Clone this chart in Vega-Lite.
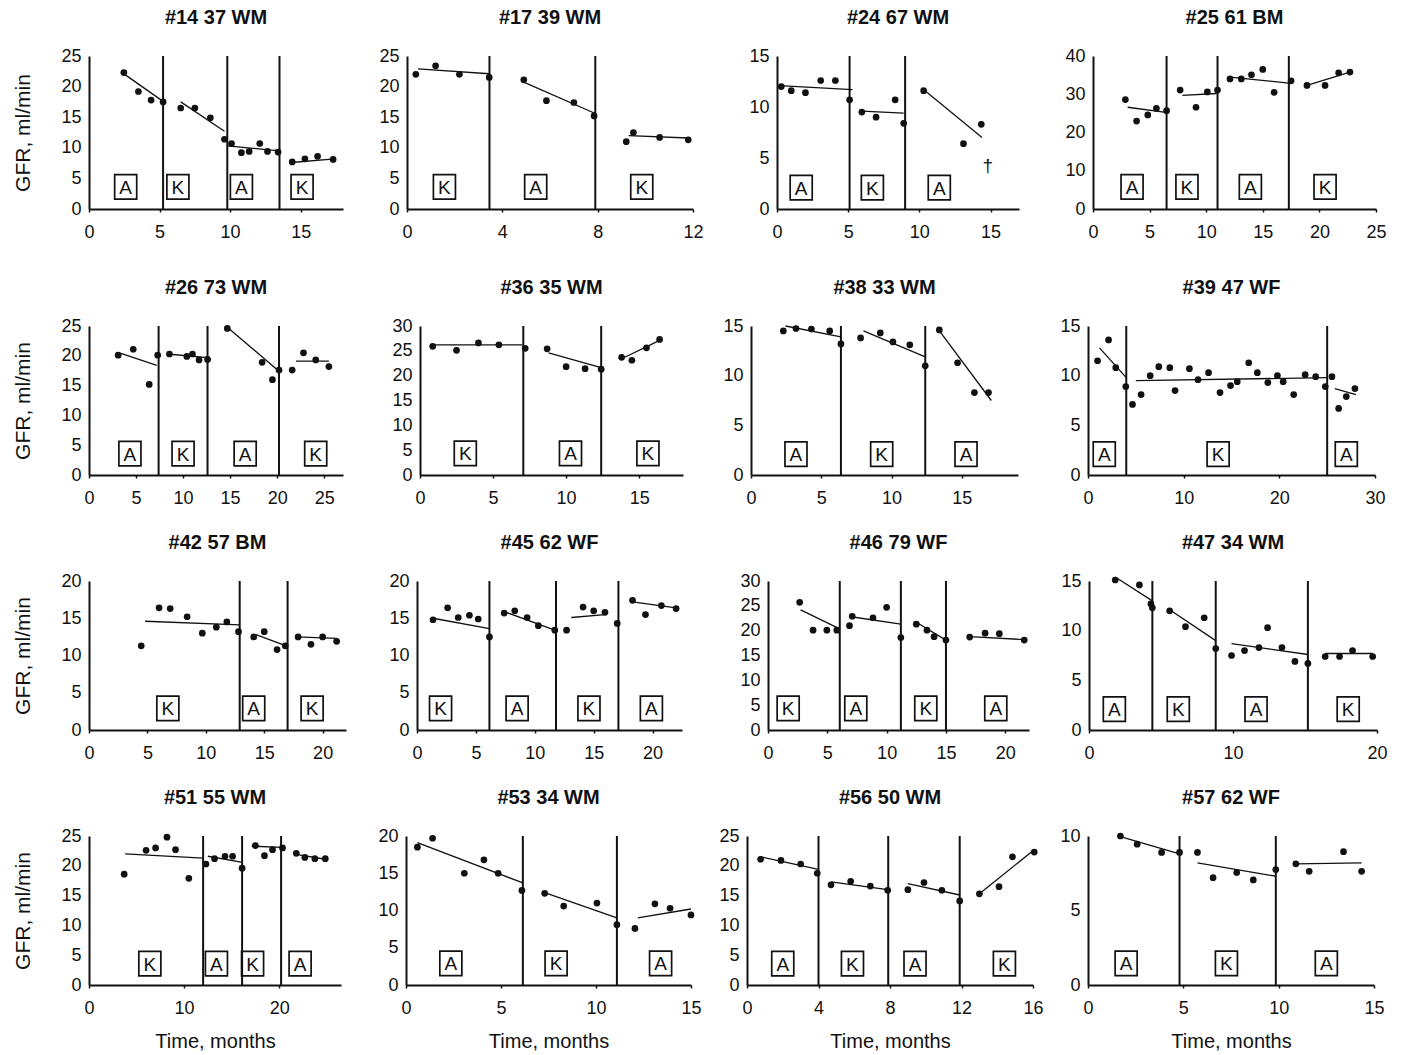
{
"$schema": "https://vega.github.io/schema/vega-lite/v6.json",
"background": "white",
"padding": {"left": 12, "top": 8, "right": 5, "bottom": 3},
"datasets": {
"d": [
{"p":1,"k":"p","t":2.47,"g":22.3},{"p":1,"k":"p","t":3.5,"g":19.2},{"p":1,"k":"p","t":4.4,"g":17.8},{"p":1,"k":"p","t":5.25,"g":17.5},{"p":1,"k":"p","t":6.5,"g":16.5},{"p":1,"k":"p","t":7.5,"g":16.5},{"p":1,"k":"p","t":8.6,"g":14.9},{"p":1,"k":"p","t":9.6,"g":11.4},{"p":1,"k":"p","t":10.1,"g":10.7},{"p":1,"k":"p","t":10.8,"g":9.2},{"p":1,"k":"p","t":11.35,"g":9.4},{"p":1,"k":"p","t":12.1,"g":10.7},{"p":1,"k":"p","t":12.65,"g":9.4},{"p":1,"k":"p","t":13.4,"g":9.3},{"p":1,"k":"p","t":14.4,"g":7.7},{"p":1,"k":"p","t":15.3,"g":8.2},{"p":1,"k":"p","t":16.2,"g":8.6},{"p":1,"k":"p","t":17.3,"g":8.1},
{"p":1,"k":"f","s":1,"t":2.4,"g":22.2},{"p":1,"k":"f","s":1,"t":5.3,"g":17.5},{"p":1,"k":"f","s":2,"t":6.5,"g":17.5},{"p":1,"k":"f","s":2,"t":9.6,"g":12.7},{"p":1,"k":"f","s":3,"t":9.8,"g":10.3},{"p":1,"k":"f","s":3,"t":13.5,"g":9.5},{"p":1,"k":"f","s":4,"t":14.35,"g":7.6},{"p":1,"k":"f","s":4,"t":17.4,"g":8.2},
{"p":1,"k":"b","t":5.25,"g":25},{"p":1,"k":"b","t":9.8,"g":25},{"p":1,"k":"b","t":13.5,"g":25},
{"p":1,"k":"l","t":2.6,"g":3.6,"lab":"A"},{"p":1,"k":"l","t":6.3,"g":3.6,"lab":"K"},{"p":1,"k":"l","t":10.8,"g":3.6,"lab":"A"},{"p":1,"k":"l","t":15.1,"g":3.6,"lab":"K"},

{"p":2,"k":"p","t":0.37,"g":22.0},{"p":2,"k":"p","t":1.2,"g":23.4},{"p":2,"k":"p","t":2.2,"g":22.0},{"p":2,"k":"p","t":3.45,"g":21.5},{"p":2,"k":"p","t":4.9,"g":21.1},{"p":2,"k":"p","t":5.85,"g":17.7},{"p":2,"k":"p","t":7.0,"g":17.4},{"p":2,"k":"p","t":7.85,"g":15.2},{"p":2,"k":"p","t":9.2,"g":11.0},{"p":2,"k":"p","t":9.5,"g":12.5},{"p":2,"k":"p","t":10.6,"g":11.7},{"p":2,"k":"p","t":11.8,"g":11.3},
{"p":2,"k":"f","s":1,"t":0.46,"g":22.9},{"p":2,"k":"f","s":1,"t":3.45,"g":22.1},{"p":2,"k":"f","s":2,"t":4.8,"g":20.9},{"p":2,"k":"f","s":2,"t":7.9,"g":15.6},{"p":2,"k":"f","s":3,"t":9.3,"g":12.0},{"p":2,"k":"f","s":3,"t":11.8,"g":11.6},
{"p":2,"k":"b","t":3.46,"g":25},{"p":2,"k":"b","t":7.9,"g":25},
{"p":2,"k":"l","t":1.57,"g":3.6,"lab":"K"},{"p":2,"k":"l","t":5.4,"g":3.6,"lab":"A"},{"p":2,"k":"l","t":9.85,"g":3.6,"lab":"K"},

{"p":3,"k":"p","t":0.3,"g":12.0},{"p":3,"k":"p","t":1.0,"g":11.6},{"p":3,"k":"p","t":2.0,"g":11.4},{"p":3,"k":"p","t":3.07,"g":12.6},{"p":3,"k":"p","t":4.1,"g":12.6},{"p":3,"k":"p","t":5.1,"g":10.7},{"p":3,"k":"p","t":5.96,"g":9.5},{"p":3,"k":"p","t":6.96,"g":9.0},{"p":3,"k":"p","t":8.3,"g":10.7},{"p":3,"k":"p","t":8.9,"g":8.4},{"p":3,"k":"p","t":10.3,"g":11.6},{"p":3,"k":"p","t":13.1,"g":6.4},{"p":3,"k":"p","t":14.35,"g":8.3},
{"p":3,"k":"f","s":1,"t":0.16,"g":12.1},{"p":3,"k":"f","s":1,"t":5.3,"g":11.7},{"p":3,"k":"f","s":2,"t":5.96,"g":9.6},{"p":3,"k":"f","s":2,"t":8.9,"g":9.4},{"p":3,"k":"f","s":3,"t":10.4,"g":11.6},{"p":3,"k":"f","s":3,"t":14.4,"g":7.0},
{"p":3,"k":"b","t":5.1,"g":15},{"p":3,"k":"b","t":9.0,"g":15},
{"p":3,"k":"l","t":1.7,"g":2.1,"lab":"A"},{"p":3,"k":"l","t":6.7,"g":2.1,"lab":"K"},{"p":3,"k":"l","t":11.4,"g":2.1,"lab":"A"},{"p":3,"k":"d","t":14.8,"g":4.3,"lab":"†"},

{"p":4,"k":"p","t":2.86,"g":28.6},{"p":4,"k":"p","t":3.85,"g":23.0},{"p":4,"k":"p","t":4.84,"g":24.6},{"p":4,"k":"p","t":5.6,"g":26.3},{"p":4,"k":"p","t":6.5,"g":25.7},{"p":4,"k":"p","t":7.7,"g":31.1},{"p":4,"k":"p","t":9.1,"g":26.6},{"p":4,"k":"p","t":10.1,"g":30.6},{"p":4,"k":"p","t":11.0,"g":31.1},{"p":4,"k":"p","t":12.1,"g":34.0},{"p":4,"k":"p","t":13.1,"g":34.0},{"p":4,"k":"p","t":14.0,"g":35.1},{"p":4,"k":"p","t":15.0,"g":36.5},{"p":4,"k":"p","t":16.0,"g":30.5},{"p":4,"k":"p","t":17.5,"g":33.5},{"p":4,"k":"p","t":18.9,"g":32.3},{"p":4,"k":"p","t":20.5,"g":32.3},{"p":4,"k":"p","t":21.7,"g":35.6},{"p":4,"k":"p","t":22.7,"g":35.8},
{"p":4,"k":"f","s":1,"t":3.06,"g":26.6},{"p":4,"k":"f","s":1,"t":6.6,"g":25.2},{"p":4,"k":"f","s":2,"t":7.9,"g":29.7},{"p":4,"k":"f","s":2,"t":10.9,"g":30.2},{"p":4,"k":"f","s":3,"t":12.1,"g":34.5},{"p":4,"k":"f","s":3,"t":17.3,"g":32.9},{"p":4,"k":"f","s":4,"t":18.9,"g":32.3},{"p":4,"k":"f","s":4,"t":22.7,"g":35.8},
{"p":4,"k":"b","t":6.5,"g":40},{"p":4,"k":"b","t":11.0,"g":40},{"p":4,"k":"b","t":17.3,"g":40},
{"p":4,"k":"l","t":3.45,"g":5.8,"lab":"A"},{"p":4,"k":"l","t":8.3,"g":5.8,"lab":"K"},{"p":4,"k":"l","t":13.9,"g":5.8,"lab":"A"},{"p":4,"k":"l","t":20.5,"g":5.8,"lab":"K"},

{"p":5,"k":"p","t":3.1,"g":20.1},{"p":5,"k":"p","t":4.7,"g":21.1},{"p":5,"k":"p","t":6.4,"g":15.2},{"p":5,"k":"p","t":7.3,"g":20.1},{"p":5,"k":"p","t":8.55,"g":20.3},{"p":5,"k":"p","t":10.4,"g":19.9},{"p":5,"k":"p","t":11.0,"g":20.3},{"p":5,"k":"p","t":11.7,"g":19.3},{"p":5,"k":"p","t":12.6,"g":19.4},{"p":5,"k":"p","t":14.7,"g":24.6},{"p":5,"k":"p","t":18.4,"g":18.9},{"p":5,"k":"p","t":19.5,"g":16.0},{"p":5,"k":"p","t":20.2,"g":17.6},{"p":5,"k":"p","t":21.6,"g":17.6},{"p":5,"k":"p","t":22.8,"g":20.5},{"p":5,"k":"p","t":24.1,"g":19.3},{"p":5,"k":"p","t":25.5,"g":18.2},
{"p":5,"k":"f","s":1,"t":3.4,"g":20.4},{"p":5,"k":"f","s":1,"t":7.2,"g":18.4},{"p":5,"k":"f","s":2,"t":8.3,"g":20.3},{"p":5,"k":"f","s":2,"t":12.6,"g":19.7},{"p":5,"k":"f","s":3,"t":14.7,"g":24.8},{"p":5,"k":"f","s":3,"t":20.2,"g":17.4},{"p":5,"k":"f","s":4,"t":22.0,"g":19.1},{"p":5,"k":"f","s":4,"t":25.5,"g":19.1},
{"p":5,"k":"b","t":7.4,"g":25},{"p":5,"k":"b","t":12.6,"g":25},{"p":5,"k":"b","t":20.2,"g":25},
{"p":5,"k":"l","t":4.35,"g":3.6,"lab":"A"},{"p":5,"k":"l","t":10.0,"g":3.6,"lab":"K"},{"p":5,"k":"l","t":16.6,"g":3.6,"lab":"A"},{"p":5,"k":"l","t":24.1,"g":3.6,"lab":"K"},

{"p":6,"k":"p","t":0.87,"g":25.9},{"p":6,"k":"p","t":2.5,"g":25.1},{"p":6,"k":"p","t":4.0,"g":26.6},{"p":6,"k":"p","t":5.4,"g":26.2},{"p":6,"k":"p","t":7.2,"g":25.5},{"p":6,"k":"p","t":8.7,"g":25.4},{"p":6,"k":"p","t":10.0,"g":21.8},{"p":6,"k":"p","t":11.3,"g":21.4},{"p":6,"k":"p","t":12.4,"g":21.3},{"p":6,"k":"p","t":13.8,"g":23.7},{"p":6,"k":"p","t":14.5,"g":23.1},{"p":6,"k":"p","t":15.5,"g":25.6},{"p":6,"k":"p","t":16.4,"g":27.3},
{"p":6,"k":"f","s":1,"t":0.87,"g":26.2},{"p":6,"k":"f","s":1,"t":7.0,"g":26.2},{"p":6,"k":"f","s":2,"t":8.8,"g":24.6},{"p":6,"k":"f","s":2,"t":12.4,"g":21.6},{"p":6,"k":"f","s":3,"t":13.8,"g":23.4},{"p":6,"k":"f","s":3,"t":16.4,"g":27.1},
{"p":6,"k":"b","t":7.07,"g":30},{"p":6,"k":"b","t":12.4,"g":30},
{"p":6,"k":"l","t":3.1,"g":4.35,"lab":"K"},{"p":6,"k":"l","t":10.3,"g":4.35,"lab":"A"},{"p":6,"k":"l","t":15.6,"g":4.35,"lab":"K"},

{"p":7,"k":"p","t":2.3,"g":14.5},{"p":7,"k":"p","t":3.2,"g":14.75},{"p":7,"k":"p","t":4.3,"g":14.7},{"p":7,"k":"p","t":5.6,"g":14.5},{"p":7,"k":"p","t":6.4,"g":13.2},{"p":7,"k":"p","t":7.8,"g":13.8},{"p":7,"k":"p","t":9.2,"g":14.3},{"p":7,"k":"p","t":10.1,"g":13.4},{"p":7,"k":"p","t":11.3,"g":13.1},{"p":7,"k":"p","t":12.4,"g":11.0},{"p":7,"k":"p","t":13.4,"g":14.6},{"p":7,"k":"p","t":14.7,"g":11.3},{"p":7,"k":"p","t":15.9,"g":8.3},{"p":7,"k":"p","t":16.9,"g":8.3},
{"p":7,"k":"f","s":1,"t":2.46,"g":15.0},{"p":7,"k":"f","s":1,"t":6.4,"g":13.9},{"p":7,"k":"f","s":2,"t":8.0,"g":14.5},{"p":7,"k":"f","s":2,"t":12.4,"g":11.9},{"p":7,"k":"f","s":3,"t":13.3,"g":14.7},{"p":7,"k":"f","s":3,"t":17.1,"g":7.5},
{"p":7,"k":"b","t":6.4,"g":15},{"p":7,"k":"b","t":12.4,"g":15},
{"p":7,"k":"l","t":3.2,"g":2.1,"lab":"A"},{"p":7,"k":"l","t":9.3,"g":2.1,"lab":"K"},{"p":7,"k":"l","t":15.3,"g":2.1,"lab":"A"},

{"p":8,"k":"p","t":1.0,"g":11.5},{"p":8,"k":"p","t":2.15,"g":13.6},{"p":8,"k":"p","t":2.9,"g":10.8},{"p":8,"k":"p","t":3.95,"g":8.9},{"p":8,"k":"p","t":4.65,"g":7.1},{"p":8,"k":"p","t":5.55,"g":8.1},{"p":8,"k":"p","t":6.5,"g":10.0},{"p":8,"k":"p","t":7.4,"g":10.9},{"p":8,"k":"p","t":8.55,"g":10.8},{"p":8,"k":"p","t":9.1,"g":8.5},{"p":8,"k":"p","t":10.6,"g":10.7},{"p":8,"k":"p","t":11.5,"g":9.6},{"p":8,"k":"p","t":12.6,"g":10.3},{"p":8,"k":"p","t":13.8,"g":8.3},{"p":8,"k":"p","t":14.9,"g":9.0},{"p":8,"k":"p","t":15.6,"g":9.4},{"p":8,"k":"p","t":16.8,"g":11.3},{"p":8,"k":"p","t":17.7,"g":10.3},{"p":8,"k":"p","t":18.8,"g":9.3},{"p":8,"k":"p","t":19.8,"g":10.0},{"p":8,"k":"p","t":20.4,"g":9.4},{"p":8,"k":"p","t":21.5,"g":8.1},{"p":8,"k":"p","t":22.7,"g":10.1},{"p":8,"k":"p","t":23.8,"g":9.9},{"p":8,"k":"p","t":24.8,"g":8.9},{"p":8,"k":"p","t":25.5,"g":9.9},{"p":8,"k":"p","t":26.2,"g":6.7},{"p":8,"k":"p","t":27.0,"g":7.9},{"p":8,"k":"p","t":27.9,"g":8.7},
{"p":8,"k":"f","s":1,"t":1.2,"g":12.8},{"p":8,"k":"f","s":1,"t":4.0,"g":9.8},{"p":8,"k":"f","s":2,"t":5.0,"g":9.5},{"p":8,"k":"f","s":2,"t":25.0,"g":9.8},{"p":8,"k":"f","s":3,"t":25.8,"g":8.7},{"p":8,"k":"f","s":3,"t":28.0,"g":8.1},
{"p":8,"k":"b","t":4.0,"g":15},{"p":8,"k":"b","t":25.0,"g":15},
{"p":8,"k":"l","t":1.7,"g":2.1,"lab":"A"},{"p":8,"k":"l","t":13.6,"g":2.1,"lab":"K"},{"p":8,"k":"l","t":27.0,"g":2.1,"lab":"A"},

{"p":9,"k":"p","t":4.47,"g":11.3},{"p":9,"k":"p","t":6.0,"g":16.4},{"p":9,"k":"p","t":6.95,"g":16.3},{"p":9,"k":"p","t":8.4,"g":15.2},{"p":9,"k":"p","t":9.7,"g":13.0},{"p":9,"k":"p","t":10.9,"g":13.8},{"p":9,"k":"p","t":11.8,"g":14.5},{"p":9,"k":"p","t":12.8,"g":13.2},{"p":9,"k":"p","t":14.1,"g":12.5},{"p":9,"k":"p","t":15.0,"g":13.2},{"p":9,"k":"p","t":16.1,"g":10.8},{"p":9,"k":"p","t":16.8,"g":11.3},{"p":9,"k":"p","t":17.9,"g":12.5},{"p":9,"k":"p","t":19.0,"g":11.5},{"p":9,"k":"p","t":20.0,"g":12.5},{"p":9,"k":"p","t":21.2,"g":11.9},
{"p":9,"k":"f","s":1,"t":4.8,"g":14.6},{"p":9,"k":"f","s":1,"t":12.9,"g":14.1},{"p":9,"k":"f","s":2,"t":14.3,"g":12.8},{"p":9,"k":"f","s":2,"t":16.7,"g":11.4},{"p":9,"k":"f","s":3,"t":17.7,"g":12.5},{"p":9,"k":"f","s":3,"t":21.2,"g":12.3},
{"p":9,"k":"b","t":12.9,"g":20},{"p":9,"k":"b","t":17.0,"g":20},
{"p":9,"k":"l","t":6.75,"g":2.9,"lab":"K"},{"p":9,"k":"l","t":14.1,"g":2.9,"lab":"A"},{"p":9,"k":"l","t":19.1,"g":2.9,"lab":"K"},

{"p":10,"k":"p","t":1.36,"g":14.8},{"p":10,"k":"p","t":2.6,"g":16.4},{"p":10,"k":"p","t":3.5,"g":15.1},{"p":10,"k":"p","t":4.45,"g":15.4},{"p":10,"k":"p","t":5.2,"g":14.9},{"p":10,"k":"p","t":6.15,"g":12.5},{"p":10,"k":"p","t":7.4,"g":15.7},{"p":10,"k":"p","t":8.3,"g":16.0},{"p":10,"k":"p","t":9.35,"g":15.1},{"p":10,"k":"p","t":10.3,"g":14.0},{"p":10,"k":"p","t":11.7,"g":13.4},{"p":10,"k":"p","t":12.7,"g":13.4},{"p":10,"k":"p","t":14.1,"g":16.5},{"p":10,"k":"p","t":15.0,"g":16.0},{"p":10,"k":"p","t":15.96,"g":15.8},{"p":10,"k":"p","t":17.0,"g":14.3},{"p":10,"k":"p","t":18.3,"g":17.4},{"p":10,"k":"p","t":19.4,"g":15.5},{"p":10,"k":"p","t":20.75,"g":16.7},{"p":10,"k":"p","t":22.0,"g":16.3},
{"p":10,"k":"f","s":1,"t":1.36,"g":15.0},{"p":10,"k":"f","s":1,"t":6.15,"g":13.6},{"p":10,"k":"f","s":2,"t":7.4,"g":15.9},{"p":10,"k":"f","s":2,"t":11.7,"g":13.4},{"p":10,"k":"f","s":3,"t":13.1,"g":15.1},{"p":10,"k":"f","s":3,"t":15.96,"g":15.5},{"p":10,"k":"f","s":4,"t":18.3,"g":17.2},{"p":10,"k":"f","s":4,"t":22.0,"g":16.4},
{"p":10,"k":"b","t":6.15,"g":20},{"p":10,"k":"b","t":11.8,"g":20},{"p":10,"k":"b","t":17.1,"g":20},
{"p":10,"k":"l","t":2.0,"g":2.9,"lab":"K"},{"p":10,"k":"l","t":8.5,"g":2.9,"lab":"A"},{"p":10,"k":"l","t":14.6,"g":2.9,"lab":"K"},{"p":10,"k":"l","t":19.9,"g":2.9,"lab":"A"},

{"p":11,"k":"p","t":2.67,"g":25.7},{"p":11,"k":"p","t":3.8,"g":20.1},{"p":11,"k":"p","t":4.96,"g":20.1},{"p":11,"k":"p","t":5.8,"g":20.1},{"p":11,"k":"p","t":6.87,"g":21.0},{"p":11,"k":"p","t":7.1,"g":22.9},{"p":11,"k":"p","t":8.85,"g":22.6},{"p":11,"k":"p","t":10.0,"g":24.7},{"p":11,"k":"p","t":11.2,"g":18.6},{"p":11,"k":"p","t":12.5,"g":21.3},{"p":11,"k":"p","t":13.4,"g":20.1},{"p":11,"k":"p","t":14.0,"g":18.8},{"p":11,"k":"p","t":15.0,"g":18.1},{"p":11,"k":"p","t":17.0,"g":18.7},{"p":11,"k":"p","t":18.3,"g":19.5},{"p":11,"k":"p","t":19.5,"g":19.4},{"p":11,"k":"p","t":21.6,"g":18.1},
{"p":11,"k":"f","s":1,"t":2.75,"g":24.2},{"p":11,"k":"f","s":1,"t":6.0,"g":20.4},{"p":11,"k":"f","s":2,"t":7.0,"g":22.8},{"p":11,"k":"f","s":2,"t":11.2,"g":21.3},{"p":11,"k":"f","s":3,"t":12.5,"g":21.7},{"p":11,"k":"f","s":3,"t":15.0,"g":18.1},{"p":11,"k":"f","s":4,"t":17.0,"g":18.8},{"p":11,"k":"f","s":4,"t":21.6,"g":18.2},
{"p":11,"k":"b","t":6.05,"g":30},{"p":11,"k":"b","t":11.2,"g":30},{"p":11,"k":"b","t":15.0,"g":30},
{"p":11,"k":"l","t":1.7,"g":4.35,"lab":"K"},{"p":11,"k":"l","t":7.4,"g":4.35,"lab":"A"},{"p":11,"k":"l","t":13.3,"g":4.35,"lab":"K"},{"p":11,"k":"l","t":19.2,"g":4.35,"lab":"A"},

{"p":12,"k":"p","t":1.82,"g":15.1},{"p":12,"k":"p","t":3.5,"g":14.6},{"p":12,"k":"p","t":4.3,"g":12.7},{"p":12,"k":"p","t":4.4,"g":12.3},{"p":12,"k":"p","t":5.6,"g":12.0},{"p":12,"k":"p","t":6.7,"g":10.4},{"p":12,"k":"p","t":8.0,"g":11.3},{"p":12,"k":"p","t":8.8,"g":8.2},{"p":12,"k":"p","t":9.9,"g":7.5},{"p":12,"k":"p","t":10.8,"g":8.0},{"p":12,"k":"p","t":11.8,"g":8.3},{"p":12,"k":"p","t":12.4,"g":10.3},{"p":12,"k":"p","t":13.4,"g":8.3},{"p":12,"k":"p","t":14.3,"g":6.9},{"p":12,"k":"p","t":15.2,"g":6.7},{"p":12,"k":"p","t":16.4,"g":7.4},{"p":12,"k":"p","t":17.4,"g":7.4},{"p":12,"k":"p","t":18.3,"g":8.0},{"p":12,"k":"p","t":19.7,"g":7.4},
{"p":12,"k":"f","s":1,"t":1.82,"g":15.4},{"p":12,"k":"f","s":1,"t":4.4,"g":13.0},{"p":12,"k":"f","s":2,"t":5.6,"g":12.1},{"p":12,"k":"f","s":2,"t":8.8,"g":9.0},{"p":12,"k":"f","s":3,"t":9.9,"g":8.7},{"p":12,"k":"f","s":3,"t":15.2,"g":7.6},{"p":12,"k":"f","s":4,"t":16.4,"g":7.7},{"p":12,"k":"f","s":4,"t":19.7,"g":7.7},
{"p":12,"k":"b","t":4.4,"g":15},{"p":12,"k":"b","t":8.8,"g":15},{"p":12,"k":"b","t":15.2,"g":15},
{"p":12,"k":"l","t":1.76,"g":2.1,"lab":"A"},{"p":12,"k":"l","t":6.2,"g":2.1,"lab":"K"},{"p":12,"k":"l","t":11.6,"g":2.1,"lab":"A"},{"p":12,"k":"l","t":18.0,"g":2.1,"lab":"K"},

{"p":13,"k":"p","t":3.7,"g":18.6},{"p":13,"k":"p","t":6.0,"g":22.6},{"p":13,"k":"p","t":7.0,"g":23.0},{"p":13,"k":"p","t":8.2,"g":24.8},{"p":13,"k":"p","t":9.1,"g":22.7},{"p":13,"k":"p","t":10.5,"g":17.9},{"p":13,"k":"p","t":12.3,"g":20.3},{"p":13,"k":"p","t":13.2,"g":21.2},{"p":13,"k":"p","t":14.3,"g":21.6},{"p":13,"k":"p","t":15.1,"g":21.6},{"p":13,"k":"p","t":16.1,"g":19.6},{"p":13,"k":"p","t":17.5,"g":23.4},{"p":13,"k":"p","t":18.45,"g":21.7},{"p":13,"k":"p","t":19.3,"g":22.7},{"p":13,"k":"p","t":20.35,"g":23.0},{"p":13,"k":"p","t":21.8,"g":22.1},{"p":13,"k":"p","t":22.7,"g":21.4},{"p":13,"k":"p","t":23.75,"g":21.2},{"p":13,"k":"p","t":24.85,"g":21.2},
{"p":13,"k":"f","s":1,"t":3.8,"g":22.0},{"p":13,"k":"f","s":1,"t":12.0,"g":21.3},{"p":13,"k":"f","s":2,"t":12.5,"g":21.6},{"p":13,"k":"f","s":2,"t":16.0,"g":20.6},{"p":13,"k":"f","s":3,"t":17.1,"g":23.3},{"p":13,"k":"f","s":3,"t":20.3,"g":23.1},{"p":13,"k":"f","s":4,"t":21.8,"g":21.9},{"p":13,"k":"f","s":4,"t":24.85,"g":21.1},
{"p":13,"k":"b","t":12.0,"g":25},{"p":13,"k":"b","t":16.1,"g":25},{"p":13,"k":"b","t":20.2,"g":25},
{"p":13,"k":"l","t":6.4,"g":3.6,"lab":"K"},{"p":13,"k":"l","t":13.4,"g":3.6,"lab":"A"},{"p":13,"k":"l","t":17.2,"g":3.6,"lab":"K"},{"p":13,"k":"l","t":22.2,"g":3.6,"lab":"A"},

{"p":14,"k":"p","t":0.6,"g":18.5},{"p":14,"k":"p","t":1.4,"g":19.7},{"p":14,"k":"p","t":3.07,"g":15.0},{"p":14,"k":"p","t":4.1,"g":16.8},{"p":14,"k":"p","t":4.85,"g":15.0},{"p":14,"k":"p","t":6.1,"g":12.7},{"p":14,"k":"p","t":7.3,"g":12.3},{"p":14,"k":"p","t":8.3,"g":10.6},{"p":14,"k":"p","t":10.05,"g":11.0},{"p":14,"k":"p","t":11.1,"g":8.1},{"p":14,"k":"p","t":12.05,"g":7.6},{"p":14,"k":"p","t":13.1,"g":10.9},{"p":14,"k":"p","t":13.9,"g":10.3},{"p":14,"k":"p","t":15.0,"g":9.4},
{"p":14,"k":"f","s":1,"t":0.6,"g":19.1},{"p":14,"k":"f","s":1,"t":6.15,"g":13.7},{"p":14,"k":"f","s":2,"t":7.3,"g":12.4},{"p":14,"k":"f","s":2,"t":11.1,"g":9.0},{"p":14,"k":"f","s":3,"t":12.2,"g":9.0},{"p":14,"k":"f","s":3,"t":15.0,"g":10.2},
{"p":14,"k":"b","t":6.15,"g":20},{"p":14,"k":"b","t":11.1,"g":20},
{"p":14,"k":"l","t":2.36,"g":2.9,"lab":"A"},{"p":14,"k":"l","t":7.9,"g":2.9,"lab":"K"},{"p":14,"k":"l","t":13.4,"g":2.9,"lab":"A"},

{"p":15,"k":"p","t":0.76,"g":21.1},{"p":15,"k":"p","t":1.9,"g":20.9},{"p":15,"k":"p","t":3.0,"g":20.3},{"p":15,"k":"p","t":3.93,"g":18.75},{"p":15,"k":"p","t":4.7,"g":16.8},{"p":15,"k":"p","t":5.8,"g":17.4},{"p":15,"k":"p","t":6.9,"g":16.6},{"p":15,"k":"p","t":7.87,"g":15.9},{"p":15,"k":"p","t":9.0,"g":16.0},{"p":15,"k":"p","t":9.9,"g":17.2},{"p":15,"k":"p","t":10.9,"g":15.9},{"p":15,"k":"p","t":11.9,"g":14.1},{"p":15,"k":"p","t":13.0,"g":15.3},{"p":15,"k":"p","t":14.1,"g":16.5},{"p":15,"k":"p","t":14.85,"g":21.5},{"p":15,"k":"p","t":16.07,"g":22.3},
{"p":15,"k":"f","s":1,"t":0.76,"g":21.5},{"p":15,"k":"f","s":1,"t":4.0,"g":19.4},{"p":15,"k":"f","s":2,"t":4.7,"g":17.3},{"p":15,"k":"f","s":2,"t":7.87,"g":16.0},{"p":15,"k":"f","s":3,"t":9.0,"g":17.0},{"p":15,"k":"f","s":3,"t":11.9,"g":15.1},{"p":15,"k":"f","s":4,"t":13.0,"g":15.3},{"p":15,"k":"f","s":4,"t":16.07,"g":22.7},
{"p":15,"k":"b","t":4.0,"g":25},{"p":15,"k":"b","t":7.9,"g":25},{"p":15,"k":"b","t":11.9,"g":25},
{"p":15,"k":"l","t":2.0,"g":3.6,"lab":"A"},{"p":15,"k":"l","t":5.9,"g":3.6,"lab":"K"},{"p":15,"k":"l","t":9.4,"g":3.6,"lab":"A"},{"p":15,"k":"l","t":14.4,"g":3.6,"lab":"K"},

{"p":16,"k":"p","t":1.7,"g":10.0},{"p":16,"k":"p","t":2.58,"g":9.45},{"p":16,"k":"p","t":3.86,"g":8.9},{"p":16,"k":"p","t":4.8,"g":8.9},{"p":16,"k":"p","t":5.74,"g":8.9},{"p":16,"k":"p","t":6.56,"g":7.2},{"p":16,"k":"p","t":7.8,"g":7.55},{"p":16,"k":"p","t":8.67,"g":7.05},{"p":16,"k":"p","t":9.85,"g":7.75},{"p":16,"k":"p","t":10.9,"g":8.13},{"p":16,"k":"p","t":11.6,"g":7.63},{"p":16,"k":"p","t":13.4,"g":8.95},{"p":16,"k":"p","t":14.35,"g":7.63},
{"p":16,"k":"f","s":1,"t":1.7,"g":9.96},{"p":16,"k":"f","s":1,"t":4.8,"g":8.8},{"p":16,"k":"f","s":2,"t":5.74,"g":8.2},{"p":16,"k":"f","s":2,"t":9.85,"g":7.3},{"p":16,"k":"f","s":3,"t":10.9,"g":8.13},{"p":16,"k":"f","s":3,"t":14.35,"g":8.2},
{"p":16,"k":"b","t":4.8,"g":10},{"p":16,"k":"b","t":9.85,"g":10},
{"p":16,"k":"l","t":2.0,"g":1.45,"lab":"A"},{"p":16,"k":"l","t":7.26,"g":1.45,"lab":"K"},{"p":16,"k":"l","t":12.5,"g":1.45,"lab":"A"}
]
},
"data": {"name": "d"},
"spacing": 37,
"vconcat": [
{"hconcat": [
{"title": "#14 37 WM", "width": 254, "height": 153, "transform": [{"filter": "datum.p==1"}],
 "encoding": {"x": {"field": "t", "type": "quantitative", "scale": {"domain": [0, 18]}, "axis": {"values": [0,5,10,15], "title": null}},
  "y": {"field": "g", "type": "quantitative", "scale": {"domain": [0, 25]}, "axis": {"values": [0,5,10,15,20,25], "title": "GFR, ml/min", "minExtent": 48, "maxExtent": 48}}},
 "layer": [
  {"transform": [{"filter": "datum.k=='b'"}], "mark": {"type": "rule", "color": "#111", "strokeWidth": 2}, "encoding": {"y2": {"datum": 0}}},
  {"transform": [{"filter": "datum.k=='f'"}], "mark": {"type": "line", "color": "#111", "strokeWidth": 1.3}, "encoding": {"detail": {"field": "s"}}},
  {"transform": [{"filter": "datum.k=='p'"}], "mark": {"type": "point", "filled": true, "color": "#111", "size": 45, "opacity": 1}},
  {"transform": [{"filter": "datum.k=='l'"}], "mark": {"type": "point", "shape": "M-0.9,-1L0.9,-1L0.9,1L-0.9,1Z", "filled": false, "color": "#111", "size": 600, "strokeWidth": 1.7, "opacity": 1}},
  {"transform": [{"filter": "datum.k=='l' || datum.k=='d'"}], "mark": {"type": "text", "font": "Liberation Sans", "fontSize": 19, "color": "#111", "baseline": "middle", "dy": 1}, "encoding": {"text": {"field": "lab"}}}
 ]},
{"title": "#17 39 WM", "width": 286, "height": 153, "transform": [{"filter": "datum.p==2"}],
 "encoding": {"x": {"field": "t", "type": "quantitative", "scale": {"domain": [0, 12]}, "axis": {"values": [0,4,8,12], "title": null}},
  "y": {"field": "g", "type": "quantitative", "scale": {"domain": [0, 25]}, "axis": {"values": [0,5,10,15,20,25], "title": null, "minExtent": 54, "maxExtent": 54}}},
 "layer": [
  {"transform": [{"filter": "datum.k=='b'"}], "mark": {"type": "rule", "color": "#111", "strokeWidth": 2}, "encoding": {"y2": {"datum": 0}}},
  {"transform": [{"filter": "datum.k=='f'"}], "mark": {"type": "line", "color": "#111", "strokeWidth": 1.3}, "encoding": {"detail": {"field": "s"}}},
  {"transform": [{"filter": "datum.k=='p'"}], "mark": {"type": "point", "filled": true, "color": "#111", "size": 45, "opacity": 1}},
  {"transform": [{"filter": "datum.k=='l'"}], "mark": {"type": "point", "shape": "M-0.9,-1L0.9,-1L0.9,1L-0.9,1Z", "filled": false, "color": "#111", "size": 600, "strokeWidth": 1.7, "opacity": 1}},
  {"transform": [{"filter": "datum.k=='l' || datum.k=='d'"}], "mark": {"type": "text", "font": "Liberation Sans", "fontSize": 19, "color": "#111", "baseline": "middle", "dy": 1}, "encoding": {"text": {"field": "lab"}}}
 ]},
{"title": "#24 67 WM", "width": 242, "height": 153, "transform": [{"filter": "datum.p==3"}],
 "encoding": {"x": {"field": "t", "type": "quantitative", "scale": {"domain": [0, 17]}, "axis": {"values": [0,5,10,15], "title": null}},
  "y": {"field": "g", "type": "quantitative", "scale": {"domain": [0, 15]}, "axis": {"values": [0,5,10,15], "title": null, "minExtent": 63, "maxExtent": 63}}},
 "layer": [
  {"transform": [{"filter": "datum.k=='b'"}], "mark": {"type": "rule", "color": "#111", "strokeWidth": 2}, "encoding": {"y2": {"datum": 0}}},
  {"transform": [{"filter": "datum.k=='f'"}], "mark": {"type": "line", "color": "#111", "strokeWidth": 1.3}, "encoding": {"detail": {"field": "s"}}},
  {"transform": [{"filter": "datum.k=='p'"}], "mark": {"type": "point", "filled": true, "color": "#111", "size": 45, "opacity": 1}},
  {"transform": [{"filter": "datum.k=='l'"}], "mark": {"type": "point", "shape": "M-0.9,-1L0.9,-1L0.9,1L-0.9,1Z", "filled": false, "color": "#111", "size": 600, "strokeWidth": 1.7, "opacity": 1}},
  {"transform": [{"filter": "datum.k=='l' || datum.k=='d'"}], "mark": {"type": "text", "font": "Liberation Sans", "fontSize": 19, "color": "#111", "baseline": "middle", "dy": 1}, "encoding": {"text": {"field": "lab"}}}
 ]},
{"title": "#25 61 BM", "width": 283, "height": 153, "transform": [{"filter": "datum.p==4"}],
 "encoding": {"x": {"field": "t", "type": "quantitative", "scale": {"domain": [0, 25]}, "axis": {"values": [0,5,10,15,20,25], "title": null}},
  "y": {"field": "g", "type": "quantitative", "scale": {"domain": [0, 40]}, "axis": {"values": [0,10,20,30,40], "title": null, "minExtent": 64, "maxExtent": 64}}},
 "layer": [
  {"transform": [{"filter": "datum.k=='b'"}], "mark": {"type": "rule", "color": "#111", "strokeWidth": 2}, "encoding": {"y2": {"datum": 0}}},
  {"transform": [{"filter": "datum.k=='f'"}], "mark": {"type": "line", "color": "#111", "strokeWidth": 1.3}, "encoding": {"detail": {"field": "s"}}},
  {"transform": [{"filter": "datum.k=='p'"}], "mark": {"type": "point", "filled": true, "color": "#111", "size": 45, "opacity": 1}},
  {"transform": [{"filter": "datum.k=='l'"}], "mark": {"type": "point", "shape": "M-0.9,-1L0.9,-1L0.9,1L-0.9,1Z", "filled": false, "color": "#111", "size": 600, "strokeWidth": 1.7, "opacity": 1}},
  {"transform": [{"filter": "datum.k=='l' || datum.k=='d'"}], "mark": {"type": "text", "font": "Liberation Sans", "fontSize": 19, "color": "#111", "baseline": "middle", "dy": 1}, "encoding": {"text": {"field": "lab"}}}
 ]}
], "spacing": 10},
{"spacing": 26, "vconcat": [
{"hconcat": [
{"title": "#26 73 WM", "width": 254, "height": 149, "transform": [{"filter": "datum.p==5"}],
 "encoding": {"x": {"field": "t", "type": "quantitative", "scale": {"domain": [0, 27]}, "axis": {"values": [0,5,10,15,20,25], "title": null}},
  "y": {"field": "g", "type": "quantitative", "scale": {"domain": [0, 25]}, "axis": {"values": [0,5,10,15,20,25], "title": "GFR, ml/min", "minExtent": 48, "maxExtent": 48}}},
 "layer": [
  {"transform": [{"filter": "datum.k=='b'"}], "mark": {"type": "rule", "color": "#111", "strokeWidth": 2}, "encoding": {"y2": {"datum": 0}}},
  {"transform": [{"filter": "datum.k=='f'"}], "mark": {"type": "line", "color": "#111", "strokeWidth": 1.3}, "encoding": {"detail": {"field": "s"}}},
  {"transform": [{"filter": "datum.k=='p'"}], "mark": {"type": "point", "filled": true, "color": "#111", "size": 45, "opacity": 1}},
  {"transform": [{"filter": "datum.k=='l'"}], "mark": {"type": "point", "shape": "M-0.9,-1L0.9,-1L0.9,1L-0.9,1Z", "filled": false, "color": "#111", "size": 600, "strokeWidth": 1.7, "opacity": 1}},
  {"transform": [{"filter": "datum.k=='l' || datum.k=='d'"}], "mark": {"type": "text", "font": "Liberation Sans", "fontSize": 19, "color": "#111", "baseline": "middle", "dy": 1}, "encoding": {"text": {"field": "lab"}}}
 ]},
{"title": "#36 35 WM", "width": 263, "height": 149, "transform": [{"filter": "datum.p==6"}],
 "encoding": {"x": {"field": "t", "type": "quantitative", "scale": {"domain": [0, 18]}, "axis": {"values": [0,5,10,15], "title": null}},
  "y": {"field": "g", "type": "quantitative", "scale": {"domain": [0, 30]}, "axis": {"values": [0,5,10,15,20,25,30], "title": null, "minExtent": 67, "maxExtent": 67}}},
 "layer": [
  {"transform": [{"filter": "datum.k=='b'"}], "mark": {"type": "rule", "color": "#111", "strokeWidth": 2}, "encoding": {"y2": {"datum": 0}}},
  {"transform": [{"filter": "datum.k=='f'"}], "mark": {"type": "line", "color": "#111", "strokeWidth": 1.3}, "encoding": {"detail": {"field": "s"}}},
  {"transform": [{"filter": "datum.k=='p'"}], "mark": {"type": "point", "filled": true, "color": "#111", "size": 45, "opacity": 1}},
  {"transform": [{"filter": "datum.k=='l'"}], "mark": {"type": "point", "shape": "M-0.9,-1L0.9,-1L0.9,1L-0.9,1Z", "filled": false, "color": "#111", "size": 600, "strokeWidth": 1.7, "opacity": 1}},
  {"transform": [{"filter": "datum.k=='l' || datum.k=='d'"}], "mark": {"type": "text", "font": "Liberation Sans", "fontSize": 19, "color": "#111", "baseline": "middle", "dy": 1}, "encoding": {"text": {"field": "lab"}}}
 ]},
{"title": "#38 33 WM", "width": 267, "height": 149, "transform": [{"filter": "datum.p==7"}],
 "encoding": {"x": {"field": "t", "type": "quantitative", "scale": {"domain": [0, 19]}, "axis": {"values": [0,5,10,15], "title": null}},
  "y": {"field": "g", "type": "quantitative", "scale": {"domain": [0, 15]}, "axis": {"values": [0,5,10,15], "title": null, "minExtent": 58, "maxExtent": 58}}},
 "layer": [
  {"transform": [{"filter": "datum.k=='b'"}], "mark": {"type": "rule", "color": "#111", "strokeWidth": 2}, "encoding": {"y2": {"datum": 0}}},
  {"transform": [{"filter": "datum.k=='f'"}], "mark": {"type": "line", "color": "#111", "strokeWidth": 1.3}, "encoding": {"detail": {"field": "s"}}},
  {"transform": [{"filter": "datum.k=='p'"}], "mark": {"type": "point", "filled": true, "color": "#111", "size": 45, "opacity": 1}},
  {"transform": [{"filter": "datum.k=='l'"}], "mark": {"type": "point", "shape": "M-0.9,-1L0.9,-1L0.9,1L-0.9,1Z", "filled": false, "color": "#111", "size": 600, "strokeWidth": 1.7, "opacity": 1}},
  {"transform": [{"filter": "datum.k=='l' || datum.k=='d'"}], "mark": {"type": "text", "font": "Liberation Sans", "fontSize": 19, "color": "#111", "baseline": "middle", "dy": 1}, "encoding": {"text": {"field": "lab"}}}
 ]},
{"title": "#39 47 WF", "width": 287, "height": 149, "transform": [{"filter": "datum.p==8"}],
 "encoding": {"x": {"field": "t", "type": "quantitative", "scale": {"domain": [0, 30]}, "axis": {"values": [0,10,20,30], "title": null}},
  "y": {"field": "g", "type": "quantitative", "scale": {"domain": [0, 15]}, "axis": {"values": [0,5,10,15], "title": null, "minExtent": 60, "maxExtent": 60}}},
 "layer": [
  {"transform": [{"filter": "datum.k=='b'"}], "mark": {"type": "rule", "color": "#111", "strokeWidth": 2}, "encoding": {"y2": {"datum": 0}}},
  {"transform": [{"filter": "datum.k=='f'"}], "mark": {"type": "line", "color": "#111", "strokeWidth": 1.3}, "encoding": {"detail": {"field": "s"}}},
  {"transform": [{"filter": "datum.k=='p'"}], "mark": {"type": "point", "filled": true, "color": "#111", "size": 45, "opacity": 1}},
  {"transform": [{"filter": "datum.k=='l'"}], "mark": {"type": "point", "shape": "M-0.9,-1L0.9,-1L0.9,1L-0.9,1Z", "filled": false, "color": "#111", "size": 600, "strokeWidth": 1.7, "opacity": 1}},
  {"transform": [{"filter": "datum.k=='l' || datum.k=='d'"}], "mark": {"type": "text", "font": "Liberation Sans", "fontSize": 19, "color": "#111", "baseline": "middle", "dy": 1}, "encoding": {"text": {"field": "lab"}}}
 ]}
], "spacing": 10},
{"hconcat": [
{"title": "#42 57 BM", "width": 257, "height": 149, "transform": [{"filter": "datum.p==9"}],
 "encoding": {"x": {"field": "t", "type": "quantitative", "scale": {"domain": [0, 22]}, "axis": {"values": [0,5,10,15,20], "title": null}},
  "y": {"field": "g", "type": "quantitative", "scale": {"domain": [0, 20]}, "axis": {"values": [0,5,10,15,20], "title": "GFR, ml/min", "minExtent": 48, "maxExtent": 48}}},
 "layer": [
  {"transform": [{"filter": "datum.k=='b'"}], "mark": {"type": "rule", "color": "#111", "strokeWidth": 2}, "encoding": {"y2": {"datum": 0}}},
  {"transform": [{"filter": "datum.k=='f'"}], "mark": {"type": "line", "color": "#111", "strokeWidth": 1.3}, "encoding": {"detail": {"field": "s"}}},
  {"transform": [{"filter": "datum.k=='p'"}], "mark": {"type": "point", "filled": true, "color": "#111", "size": 45, "opacity": 1}},
  {"transform": [{"filter": "datum.k=='l'"}], "mark": {"type": "point", "shape": "M-0.9,-1L0.9,-1L0.9,1L-0.9,1Z", "filled": false, "color": "#111", "size": 600, "strokeWidth": 1.7, "opacity": 1}},
  {"transform": [{"filter": "datum.k=='l' || datum.k=='d'"}], "mark": {"type": "text", "font": "Liberation Sans", "fontSize": 19, "color": "#111", "baseline": "middle", "dy": 1}, "encoding": {"text": {"field": "lab"}}}
 ]},
{"title": "#45 62 WF", "width": 265, "height": 149, "transform": [{"filter": "datum.p==10"}],
 "encoding": {"x": {"field": "t", "type": "quantitative", "scale": {"domain": [0, 22.5]}, "axis": {"values": [0,5,10,15,20], "title": null}},
  "y": {"field": "g", "type": "quantitative", "scale": {"domain": [0, 20]}, "axis": {"values": [0,5,10,15,20], "title": null, "minExtent": 61, "maxExtent": 61}}},
 "layer": [
  {"transform": [{"filter": "datum.k=='b'"}], "mark": {"type": "rule", "color": "#111", "strokeWidth": 2}, "encoding": {"y2": {"datum": 0}}},
  {"transform": [{"filter": "datum.k=='f'"}], "mark": {"type": "line", "color": "#111", "strokeWidth": 1.3}, "encoding": {"detail": {"field": "s"}}},
  {"transform": [{"filter": "datum.k=='p'"}], "mark": {"type": "point", "filled": true, "color": "#111", "size": 45, "opacity": 1}},
  {"transform": [{"filter": "datum.k=='l'"}], "mark": {"type": "point", "shape": "M-0.9,-1L0.9,-1L0.9,1L-0.9,1Z", "filled": false, "color": "#111", "size": 600, "strokeWidth": 1.7, "opacity": 1}},
  {"transform": [{"filter": "datum.k=='l' || datum.k=='d'"}], "mark": {"type": "text", "font": "Liberation Sans", "fontSize": 19, "color": "#111", "baseline": "middle", "dy": 1}, "encoding": {"text": {"field": "lab"}}}
 ]},
{"title": "#46 79 WF", "width": 261, "height": 149, "transform": [{"filter": "datum.p==11"}],
 "encoding": {"x": {"field": "t", "type": "quantitative", "scale": {"domain": [0, 22]}, "axis": {"values": [0,5,10,15,20], "title": null}},
  "y": {"field": "g", "type": "quantitative", "scale": {"domain": [0, 30]}, "axis": {"values": [0,5,10,15,20,25,30], "title": null, "minExtent": 76, "maxExtent": 76}}},
 "layer": [
  {"transform": [{"filter": "datum.k=='b'"}], "mark": {"type": "rule", "color": "#111", "strokeWidth": 2}, "encoding": {"y2": {"datum": 0}}},
  {"transform": [{"filter": "datum.k=='f'"}], "mark": {"type": "line", "color": "#111", "strokeWidth": 1.3}, "encoding": {"detail": {"field": "s"}}},
  {"transform": [{"filter": "datum.k=='p'"}], "mark": {"type": "point", "filled": true, "color": "#111", "size": 45, "opacity": 1}},
  {"transform": [{"filter": "datum.k=='l'"}], "mark": {"type": "point", "shape": "M-0.9,-1L0.9,-1L0.9,1L-0.9,1Z", "filled": false, "color": "#111", "size": 600, "strokeWidth": 1.7, "opacity": 1}},
  {"transform": [{"filter": "datum.k=='l' || datum.k=='d'"}], "mark": {"type": "text", "font": "Liberation Sans", "fontSize": 19, "color": "#111", "baseline": "middle", "dy": 1}, "encoding": {"text": {"field": "lab"}}}
 ]},
{"title": "#47 34 WM", "width": 288, "height": 149, "transform": [{"filter": "datum.p==12"}],
 "encoding": {"x": {"field": "t", "type": "quantitative", "scale": {"domain": [0, 20]}, "axis": {"values": [0,10,20], "title": null}},
  "y": {"field": "g", "type": "quantitative", "scale": {"domain": [0, 15]}, "axis": {"values": [0,5,10,15], "title": null, "minExtent": 50, "maxExtent": 50}}},
 "layer": [
  {"transform": [{"filter": "datum.k=='b'"}], "mark": {"type": "rule", "color": "#111", "strokeWidth": 2}, "encoding": {"y2": {"datum": 0}}},
  {"transform": [{"filter": "datum.k=='f'"}], "mark": {"type": "line", "color": "#111", "strokeWidth": 1.3}, "encoding": {"detail": {"field": "s"}}},
  {"transform": [{"filter": "datum.k=='p'"}], "mark": {"type": "point", "filled": true, "color": "#111", "size": 45, "opacity": 1}},
  {"transform": [{"filter": "datum.k=='l'"}], "mark": {"type": "point", "shape": "M-0.9,-1L0.9,-1L0.9,1L-0.9,1Z", "filled": false, "color": "#111", "size": 600, "strokeWidth": 1.7, "opacity": 1}},
  {"transform": [{"filter": "datum.k=='l' || datum.k=='d'"}], "mark": {"type": "text", "font": "Liberation Sans", "fontSize": 19, "color": "#111", "baseline": "middle", "dy": 1}, "encoding": {"text": {"field": "lab"}}}
 ]}
], "spacing": 10},
{"hconcat": [
{"title": "#51 55 WM", "width": 252, "height": 149, "transform": [{"filter": "datum.p==13"}],
 "encoding": {"x": {"field": "t", "type": "quantitative", "scale": {"domain": [0, 26.5]}, "axis": {"values": [0,10,20], "title": "Time, months"}},
  "y": {"field": "g", "type": "quantitative", "scale": {"domain": [0, 25]}, "axis": {"values": [0,5,10,15,20,25], "title": "GFR, ml/min", "minExtent": 48, "maxExtent": 48}}},
 "layer": [
  {"transform": [{"filter": "datum.k=='b'"}], "mark": {"type": "rule", "color": "#111", "strokeWidth": 2}, "encoding": {"y2": {"datum": 0}}},
  {"transform": [{"filter": "datum.k=='f'"}], "mark": {"type": "line", "color": "#111", "strokeWidth": 1.3}, "encoding": {"detail": {"field": "s"}}},
  {"transform": [{"filter": "datum.k=='p'"}], "mark": {"type": "point", "filled": true, "color": "#111", "size": 45, "opacity": 1}},
  {"transform": [{"filter": "datum.k=='l'"}], "mark": {"type": "point", "shape": "M-0.9,-1L0.9,-1L0.9,1L-0.9,1Z", "filled": false, "color": "#111", "size": 600, "strokeWidth": 1.7, "opacity": 1}},
  {"transform": [{"filter": "datum.k=='l' || datum.k=='d'"}], "mark": {"type": "text", "font": "Liberation Sans", "fontSize": 19, "color": "#111", "baseline": "middle", "dy": 1}, "encoding": {"text": {"field": "lab"}}}
 ]},
{"title": "#53 34 WM", "width": 285, "height": 149, "transform": [{"filter": "datum.p==14"}],
 "encoding": {"x": {"field": "t", "type": "quantitative", "scale": {"domain": [0, 15]}, "axis": {"values": [0,5,10,15], "title": "Time, months"}},
  "y": {"field": "g", "type": "quantitative", "scale": {"domain": [0, 20]}, "axis": {"values": [0,5,10,15,20], "title": null, "minExtent": 55, "maxExtent": 55}}},
 "layer": [
  {"transform": [{"filter": "datum.k=='b'"}], "mark": {"type": "rule", "color": "#111", "strokeWidth": 2}, "encoding": {"y2": {"datum": 0}}},
  {"transform": [{"filter": "datum.k=='f'"}], "mark": {"type": "line", "color": "#111", "strokeWidth": 1.3}, "encoding": {"detail": {"field": "s"}}},
  {"transform": [{"filter": "datum.k=='p'"}], "mark": {"type": "point", "filled": true, "color": "#111", "size": 45, "opacity": 1}},
  {"transform": [{"filter": "datum.k=='l'"}], "mark": {"type": "point", "shape": "M-0.9,-1L0.9,-1L0.9,1L-0.9,1Z", "filled": false, "color": "#111", "size": 600, "strokeWidth": 1.7, "opacity": 1}},
  {"transform": [{"filter": "datum.k=='l' || datum.k=='d'"}], "mark": {"type": "text", "font": "Liberation Sans", "fontSize": 19, "color": "#111", "baseline": "middle", "dy": 1}, "encoding": {"text": {"field": "lab"}}}
 ]},
{"title": "#56 50 WM", "width": 286, "height": 149, "transform": [{"filter": "datum.p==15"}],
 "encoding": {"x": {"field": "t", "type": "quantitative", "scale": {"domain": [0, 16]}, "axis": {"values": [0,4,8,12,16], "title": "Time, months"}},
  "y": {"field": "g", "type": "quantitative", "scale": {"domain": [0, 25]}, "axis": {"values": [0,5,10,15,20,25], "title": null, "minExtent": 35, "maxExtent": 35}}},
 "layer": [
  {"transform": [{"filter": "datum.k=='b'"}], "mark": {"type": "rule", "color": "#111", "strokeWidth": 2}, "encoding": {"y2": {"datum": 0}}},
  {"transform": [{"filter": "datum.k=='f'"}], "mark": {"type": "line", "color": "#111", "strokeWidth": 1.3}, "encoding": {"detail": {"field": "s"}}},
  {"transform": [{"filter": "datum.k=='p'"}], "mark": {"type": "point", "filled": true, "color": "#111", "size": 45, "opacity": 1}},
  {"transform": [{"filter": "datum.k=='l'"}], "mark": {"type": "point", "shape": "M-0.9,-1L0.9,-1L0.9,1L-0.9,1Z", "filled": false, "color": "#111", "size": 600, "strokeWidth": 1.7, "opacity": 1}},
  {"transform": [{"filter": "datum.k=='l' || datum.k=='d'"}], "mark": {"type": "text", "font": "Liberation Sans", "fontSize": 19, "color": "#111", "baseline": "middle", "dy": 1}, "encoding": {"text": {"field": "lab"}}}
 ]},
{"title": "#57 62 WF", "width": 286, "height": 149, "transform": [{"filter": "datum.p==16"}],
 "encoding": {"x": {"field": "t", "type": "quantitative", "scale": {"domain": [0, 15]}, "axis": {"values": [0,5,10,15], "title": "Time, months"}},
  "y": {"field": "g", "type": "quantitative", "scale": {"domain": [0, 10]}, "axis": {"values": [0,5,10], "title": null, "minExtent": 34, "maxExtent": 34}}},
 "layer": [
  {"transform": [{"filter": "datum.k=='b'"}], "mark": {"type": "rule", "color": "#111", "strokeWidth": 2}, "encoding": {"y2": {"datum": 0}}},
  {"transform": [{"filter": "datum.k=='f'"}], "mark": {"type": "line", "color": "#111", "strokeWidth": 1.3}, "encoding": {"detail": {"field": "s"}}},
  {"transform": [{"filter": "datum.k=='p'"}], "mark": {"type": "point", "filled": true, "color": "#111", "size": 45, "opacity": 1}},
  {"transform": [{"filter": "datum.k=='l'"}], "mark": {"type": "point", "shape": "M-0.9,-1L0.9,-1L0.9,1L-0.9,1Z", "filled": false, "color": "#111", "size": 600, "strokeWidth": 1.7, "opacity": 1}},
  {"transform": [{"filter": "datum.k=='l' || datum.k=='d'"}], "mark": {"type": "text", "font": "Liberation Sans", "fontSize": 19, "color": "#111", "baseline": "middle", "dy": 1}, "encoding": {"text": {"field": "lab"}}}
 ]}
], "spacing": 10}
]}
],
"config": {
 "view": {"stroke": null},
 "axis": {"domainColor": "#111", "domainWidth": 2, "ticks": false, "grid": false, "labelFlush": false, "labelFont": "Liberation Sans", "labelFontSize": 18, "labelColor": "#111", "titleFont": "Liberation Sans", "titleFontSize": 20, "titleFontWeight": "normal", "titleColor": "#111"},
 "axisX": {"ticks": true, "tickSize": 3, "tickWidth": 1.5, "tickColor": "#111", "labelPadding": 11, "titlePadding": 14},
 "axisY": {"labelPadding": 8, "titlePadding": 8, "titleFontSize": 21},
 "title": {"font": "Liberation Sans", "fontSize": 20, "fontWeight": "bold", "offset": 19, "color": "#111", "frame": "group", "anchor": "middle"}
}
}
